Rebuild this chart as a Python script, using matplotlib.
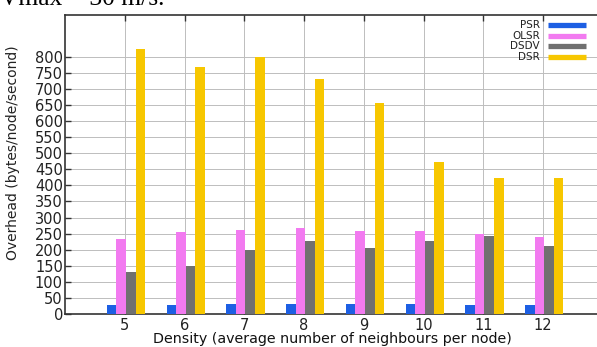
import matplotlib
matplotlib.use("Agg")
import matplotlib.pyplot as plt
from matplotlib.lines import Line2D
import numpy as np

# Node density (average neighbours per node)
density = [5, 6, 7, 8, 9, 10, 11, 12]

# Routing overhead (bytes/node/second) per protocol
psr = [29, 29, 30, 30, 30, 30, 29, 29]
olsr = [233, 256, 261, 267, 259, 258, 249, 241]
dsdv = [131, 150, 199, 227, 205, 227, 244, 211]
dsr = [825, 769, 800, 730, 657, 473, 423, 423]

series_names = ["PSR", "OLSR", "DSDV", "DSR"]
series_colors = ["#1d5fe3", "#f27af0", "#707070", "#f7c700"]
yticks = list(range(0, 801, 50))

W, H = 597, 347
fig = plt.figure(figsize=(W / 100, H / 100), dpi=100)
fig.patch.set_facecolor("white")

# axes: x=4 at px 65, x=12 at px 543, y=0 at px 314, top at px 15
left = 65 / W
bottom = (H - 314) / H
width = (602.75 - 65) / W
height = (314 - 15) / H
ax = fig.add_axes([left, bottom, width, height])

x = np.array(density, dtype=float)
bw = 0.16
data = [psr, olsr, dsdv, dsr]
for i, (vals, col) in enumerate(zip(data, series_colors)):
    ax.bar(x + (i - 1.5) * bw + 0.02, vals, width=bw, color=col,
           edgecolor="none", zorder=3)

ax.set_xlim(4, 13)
ax.set_ylim(0, 930)
ax.set_xticks(density)
ax.set_xticklabels([str(d) for d in density])
ax.set_yticks(yticks)
ax.set_yticklabels([str(t) for t in yticks])

ax.grid(True, color="#bdbdbd", linewidth=0.7, linestyle="-", zorder=0)
ax.set_axisbelow(True)

ax.tick_params(axis="both", direction="in", length=4, width=1, color="#333333",
               top=True, right=True, labelsize=10.5)
ax.tick_params(axis="y", pad=1.5)
ax.tick_params(axis="x", pad=3)
for lbl in ax.get_xticklabels() + ax.get_yticklabels():
    lbl.set_family("DejaVu Sans")
    lbl.set_color("#222222")

for s in ax.spines.values():
    s.set_color("#333333")
    s.set_linewidth(1.2)

ax.set_xlabel("Density (average number of neighbours per node)",
              fontsize=10.3, family="DejaVu Sans", color="#111111")
ax.xaxis.set_label_coords((332.5 - 65) / 537.75, (314 - 332) / 299)
ax.set_ylabel("Overhead (bytes/node/second)",
              fontsize=10, family="DejaVu Sans", color="#222222")
ax.yaxis.set_label_coords((20 - 65) / 537.75, (314 - 153) / 299)

# legend: right-aligned labels followed by colored line samples
for i, (name, col) in enumerate(zip(series_names, series_colors)):
    ypx = 25 + i * 10.7
    yf = (H - ypx) / H
    fig.text(540 / W, yf, name, ha="right", va="center", fontsize=7.5,
             family="DejaVu Sans", color="#222222")
    fig.add_artist(Line2D([548 / W, 586 / W], [yf, yf], color=col,
                          linewidth=3.8, solid_capstyle="butt",
                          transform=fig.transFigure))

fig.text(0, (H - 5) / H, "Vmax = 30 m/s.", ha="left", va="baseline",
         fontsize=18.4, family="Liberation Serif", color="black")

fig.savefig("out.png", dpi=100)
